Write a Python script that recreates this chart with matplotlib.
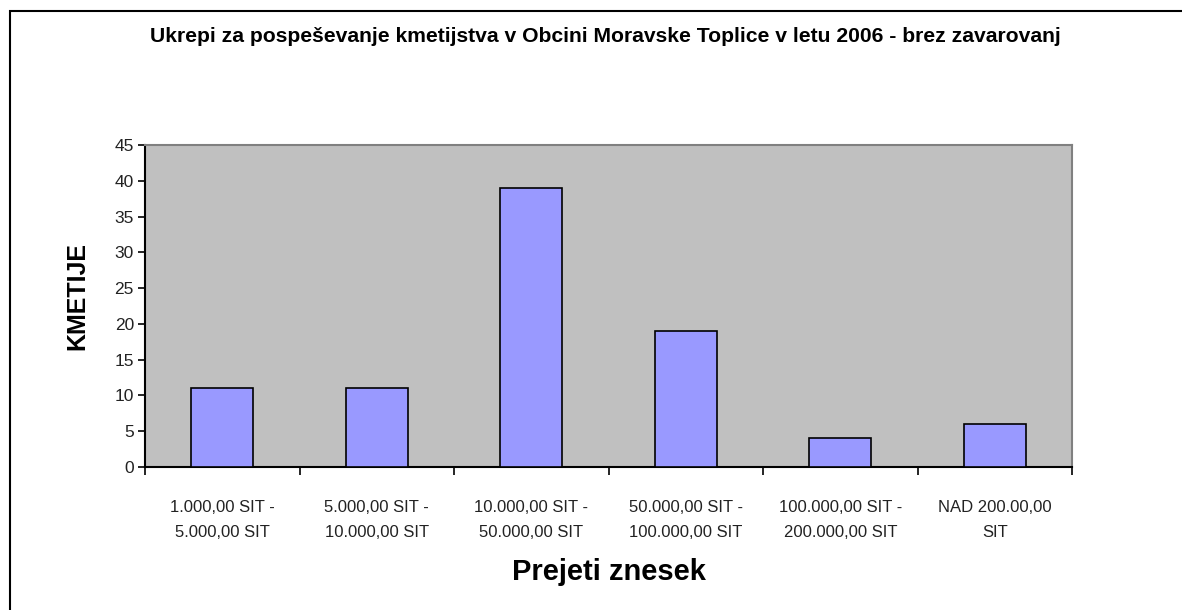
# Excel-style bar chart: kmetije by prejeti znesek
import matplotlib.pyplot as plt
from matplotlib.patches import Rectangle

categories = ['1.000,00 SIT -\n5.000,00 SIT', '5.000,00 SIT -\n10.000,00 SIT',
              '10.000,00 SIT -\n50.000,00 SIT', '50.000,00 SIT -\n100.000,00 SIT',
              '100.000,00 SIT -\n200.000,00 SIT', 'NAD 200.00,00\nSIT']
counts = [11, 11, 39, 19, 4, 6]
yticks = [0, 5, 10, 15, 20, 25, 30, 35, 40, 45]

font = ['Liberation Sans', 'DejaVu Sans']

fig = plt.figure(figsize=(11.82, 6.10), dpi=100)

# outer chart border (only top and left edges visible)
fig.patches.append(Rectangle((10/1182, 0 - 0.05), 1.2, 1 - 11/610 + 0.05,
                             transform=fig.transFigure, fill=False,
                             edgecolor='black', linewidth=1.5))

ax = fig.add_axes([145/1182, 1 - 467/610, 927/1182, 322/610])
ax.set_facecolor('#C0C0C0')

x = list(range(len(categories)))
ax.bar(x, counts, width=0.4, color='#9999FF', edgecolor='black', linewidth=1.2, zorder=3)

ax.set_xlim(-0.5, len(categories) - 0.5)
ax.set_ylim(0, 45)
ax.set_yticks(yticks)
ax.set_yticklabels([str(v) for v in yticks], family=font, fontsize=12.5, color='#222222')
ax.set_xticks([i - 0.5 for i in range(len(categories) + 1)])
ax.set_xticklabels([])
ax.set_xticks(x, minor=True)
ax.set_xticklabels(categories, minor=True, family=font, fontsize=12, linespacing=1.8,
                   color='#222222')
ax.tick_params(axis='x', which='minor', length=0, pad=24)
ax.tick_params(axis='x', which='major', length=6, width=1.2, direction='out')
ax.tick_params(axis='y', length=5, width=1.2, direction='out', pad=3)

for s in ['top', 'right']:
    ax.spines[s].set_color('#808080')
    ax.spines[s].set_linewidth(1.5)
for s in ['left', 'bottom']:
    ax.spines[s].set_color('black')
    ax.spines[s].set_linewidth(1.5)

fig.text(605/1182, 1 - 37/610, 'Ukrepi za pospeševanje kmetijstva v Obcini Moravske Toplice v letu 2006 - brez zavarovanj',
         ha='center', va='center', fontsize=15.2, fontweight='bold', family=font)
fig.text(77/1182, 1 - 296/610, 'KMETIJE', rotation=90, ha='center', va='center',
         fontsize=18, fontweight='bold', family=font)
fig.text(609/1182, 1 - 572/610, 'Prejeti znesek', ha='center', va='center',
         fontsize=21, fontweight='bold', family=font)

fig.savefig('out.png', dpi=100)
